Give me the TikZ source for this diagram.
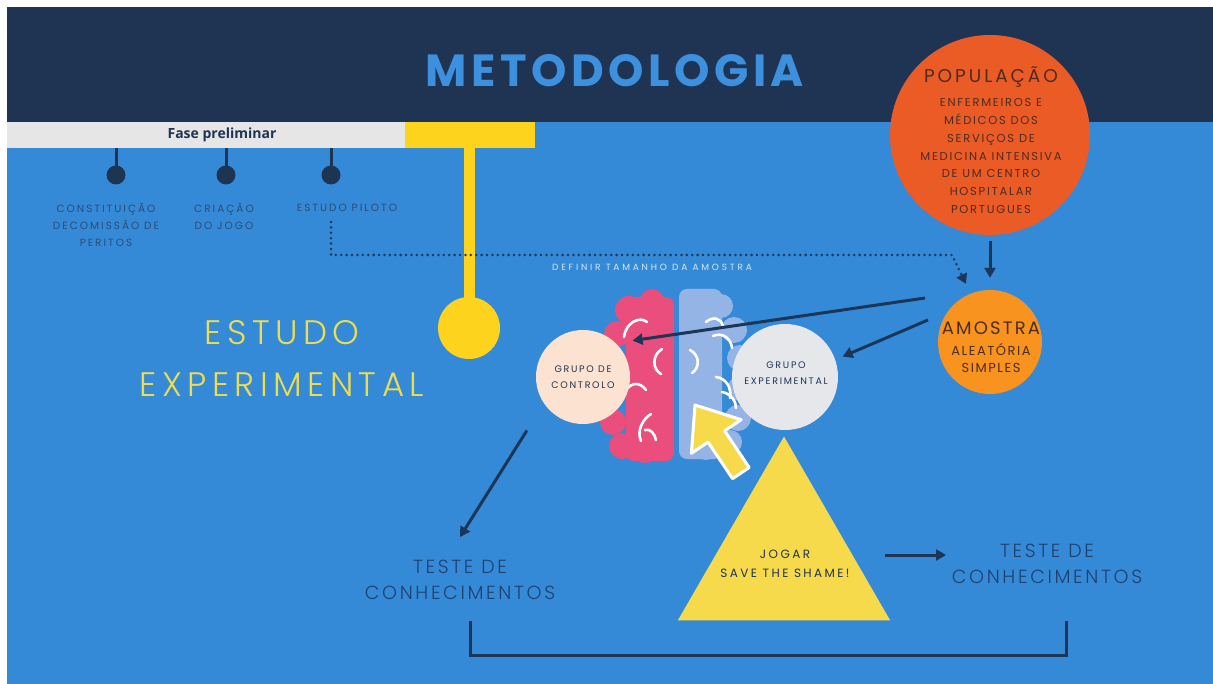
\documentclass[tikz,border=0pt]{standalone}
\usepackage{fontspec}
\setmainfont{Poppins}
\newfontfamily\barfont{Open Sans}
\newfontfamily\thinfont{Poppins}[UprightFont=* Light]
\usetikzlibrary{arrows.meta,positioning,shapes.geometric,calc}
\definecolor{HeadNavy}{HTML}{1F3452}
\definecolor{SkyBlue}{HTML}{348AD7}
\definecolor{TitleBlue}{HTML}{3D90DE}
\definecolor{BarGray}{HTML}{E6E6E6}
\definecolor{Gold}{HTML}{FDD31D}
\definecolor{PinNavy}{HTML}{1E3453}
\definecolor{LabelBlue}{HTML}{2C4C76}
\definecolor{PopOrange}{HTML}{EB5B26}
\definecolor{SampleOrange}{HTML}{F7931E}
\definecolor{BrownText}{HTML}{4E2C22}
\definecolor{Peach}{HTML}{FCE2D0}
\definecolor{SoftGray}{HTML}{E6E7EB}
\definecolor{BrainPink}{HTML}{E94E7C}
\definecolor{BrainBlue}{HTML}{94B4E6}
\definecolor{GameYellow}{HTML}{F6DA4C}
\definecolor{ArrowNavy}{HTML}{1D3557}
\definecolor{TestNavy}{HTML}{1F416F}
\definecolor{PaleText}{HTML}{D6E6F7}
\definecolor{StudyYellow}{HTML}{EEDC4E}

\begin{document}
\begin{tikzpicture}[x=1pt, y=-1pt,
  every node/.style={inner sep=0pt, align=center},
  pin/.style={circle, fill=PinNavy, minimum size=19pt},
  pinstem/.style={draw=PinNavy, line width=3pt},
  pinlabel/.style={text=LabelBlue, font=\fontsize{10.5}{17}\selectfont\addfontfeature{LetterSpace=19}},
  blob/.style={circle, fill=#1},
  arrow/.style={-{Triangle[length=10pt,width=11pt]}, line width=3pt, draw=ArrowNavy},
  dotline/.style={-{Triangle[length=10pt,width=11pt]}, draw=ArrowNavy, line width=2.8pt, line cap=round, dash pattern=on 0pt off 5.4pt},
  squiggle/.style={draw=white, line width=2.6pt, line cap=round},
  testlabel/.style={text=TestNavy, font=\thinfont\fontsize{19}{26}\selectfont\addfontfeature{LetterSpace=14}},
  smalllabel/.style={text=#1, font=\fontsize{9.5}{16}\selectfont\addfontfeature{LetterSpace=18}}
]
\useasboundingbox (0,0) rectangle (1213,684);

% page and header band
\fill[white] (0,0) rectangle (1213,684);
\fill[SkyBlue] (7,7) rectangle (1213,684);
\fill[HeadNavy] (7,7) rectangle (1213,122);
\node[text=TitleBlue, font=\bfseries\fontsize{45}{50}\selectfont\addfontfeature{LetterSpace=10}] (titulo) at (615,71) {METODOLOGIA};

% preliminary phase bar
\node[fill=BarGray, minimum width=398pt, minimum height=26pt, anchor=north west] (fase) at (7,122) {};
\node[fill=Gold, minimum width=130pt, minimum height=26pt, anchor=north west] (marco) at (405,122) {};
\node[text=HeadNavy, font=\barfont\bfseries\fontsize{14}{16}\selectfont] (fasetxt) at (222,135) {Fase preliminar};

\foreach \px/\pname in {116/comissao, 226/jogo, 331/piloto} {
  \node[pin] (\pname) at (\px,175) {};
  \draw[pinstem] (\pname.center) -- (\pname |- fase.south);
}
\node[pinlabel] (lblcomissao) at (106,225) {CONSTITUIÇÃO\\DECOMISSÃO DE\\PERITOS};
\node[pinlabel] (lbljogo) at (224,216.5) {CRIAÇÃO\\DO JOGO};
\node[pinlabel] (lblpiloto) at (347,208) {ESTUDO PILOTO};

% experimental study marker
\node[blob=Gold, minimum size=62pt] (marca) at (469,328) {};
\draw[draw=Gold, line width=11pt] (marca.center) -- (marca |- marco.south);
\node[text=StudyYellow, font=\thinfont\fontsize{34}{52}\selectfont\addfontfeature{LetterSpace=16}] (estudo) at (282,358) {ESTUDO\\EXPERIMENTAL};

% population and sample
\node[blob=PopOrange, minimum size=200pt] (populacao) at (990,135) {};
\node[text=BrownText, font=\fontsize{18.5}{20}\selectfont\addfontfeature{LetterSpace=16}] (poptitulo) at (991,77) {POPULAÇÃO};
\node[text=BrownText, font=\fontsize{11.5}{17.8}\selectfont\addfontfeature{LetterSpace=15}] (popdesc) at (991,156) {ENFERMEIROS E\\MÉDICOS DOS\\SERVIÇOS DE\\MEDICINA INTENSIVA\\DE UM CENTRO\\HOSPITALAR\\PORTUGUES};
\node[blob=SampleOrange, minimum size=104pt] (amostra) at (990,342) {};
\node[text=BrownText, font=\fontsize{18}{20}\selectfont\addfontfeature{LetterSpace=12}] (amostratit) at (991,328) {AMOSTRA};
\node[text=BrownText, font=\fontsize{13}{17}\selectfont\addfontfeature{LetterSpace=12}] (amostradesc) at (991,358.5) {ALEATÓRIA\\SIMPLES};

\node[text=PaleText, font=\fontsize{9}{10}\selectfont\addfontfeature{LetterSpace=31}] (definir) at (652,267) {DEFINIR TAMANHO DA AMOSTRA};

% brain, left half
\fill[BrainPink, rounded corners=8pt] (626,297) rectangle (674,461);
\foreach \bx/\by/\br in {629/310/14, 652/301/12, 617/334/13, 612/362/13, 611/392/13, 613/422/13, 622/446/13, 645/452/11}
  \fill[BrainPink] (\bx,\by) circle (\br);
% brain, right half
\fill[BrainBlue, rounded corners=8pt] (679,289) rectangle (722,459);
\foreach \bx/\by/\br in {697/301/12, 721/306/12, 734/330/13, 740/358/13, 741/388/13, 738/418/13, 730/442/12, 706/449/11}
  \fill[BrainBlue] (\bx,\by) circle (\br);
% folds
\draw[squiggle] (624,337) .. controls (626,322) and (640,316) .. (647,322);
\draw[squiggle] (662,349) .. controls (652,355) and (652,369) .. (661,374);
\draw[squiggle] (626,390) .. controls (632,382) and (640,382) .. (646,390);
\draw[squiggle] (641,441) .. controls (636,430) and (644,418) .. (651,414);
\draw[squiggle] (645,430) .. controls (650,428) and (655,434) .. (656,440);
\draw[squiggle] (706,322) .. controls (713,316) and (721,318) .. (723,326);
\draw[squiggle] (713,336) .. controls (722,332) and (731,338) .. (732,348);
\draw[squiggle] (690,350) .. controls (700,355) and (700,368) .. (692,373);
\draw[squiggle] (716,377) .. controls (726,378) and (732,388) .. (730,398);
\draw[squiggle] (722,392) .. controls (732,394) and (736,402) .. (736,408);

% the two groups
\node[blob=Peach, minimum size=94pt] (controlo) at (583,377) {};
\node[smalllabel=HeadNavy] (controlotxt) at (583,377) {GRUPO DE\\CONTROLO};
\node[blob=SoftGray, minimum size=106pt] (experimental) at (785,377) {};
\node[smalllabel=HeadNavy] (experimentaltxt) at (786,373) {GRUPO\\EXPERIMENTAL};

% cursor pointing at the brain
\filldraw[fill=GameYellow, draw=white, line width=3pt, line join=round]
  (695,405) -- (741.2,419.7) -- (724.6,430.9) -- (749.2,467.5) -- (732.6,478.7) -- (708,442.1) -- (691.4,453.3) -- cycle;

% game
\node[regular polygon, regular polygon sides=3, fill=GameYellow, minimum size=245pt] (jogo3) at (784,559) {};
\node[text=HeadNavy, font=\fontsize{12}{19}\selectfont\addfontfeature{LetterSpace=20}] (jogar) at (785,563.5) {JOGAR\\SAVE THE SHAME!};

% knowledge tests
\node[testlabel] (teste1) at (460,580) {TESTE DE\\CONHECIMENTOS};
\node[testlabel] (teste2) at (1047,563.5) {TESTE DE\\CONHECIMENTOS};

% connectors
\coordinate (piloto0) at (331,222);
\coordinate (s1) at (925,298);
\coordinate (s2) at (928,320);
\coordinate (t1) at (460,537);
\coordinate (g1) at (885,555);
\coordinate (g2) at (946,555);
\draw[dotline] (piloto0) |- (952,255) -- (966,284);
\draw[arrow, shorten <=6pt, shorten >=12pt] (populacao.south) -- (amostra.north);
\draw[arrow, shorten >=17pt] (s1) -- (controlo.46);
\draw[arrow, shorten >=8pt] (s2) -- (experimental.19);
\draw[arrow, shorten <=32pt] (controlo.214) -- (t1);
\draw[arrow] (g1) -- (g2);
\draw[draw=ArrowNavy, line width=3pt] (470,621) -- (470,655) -| (1066,621);
\end{tikzpicture}
\end{document}
